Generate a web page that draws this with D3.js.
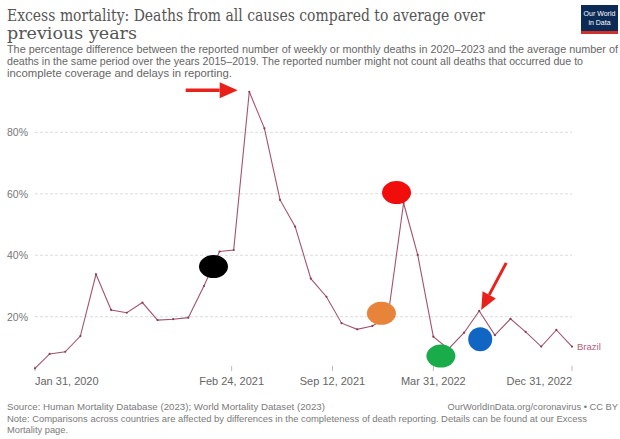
<!DOCTYPE html>
<html>
<head>
<meta charset="utf-8">
<script src="https://cdn.jsdelivr.net/npm/d3@7"></script>
<style>
  html, body { margin: 0; padding: 0; background: #fff; }
  svg { display: block; }
</style>
</head>
<body>
<svg id="chart" width="620" height="439"></svg>
<script>
// ---------- DATA ----------
const monthStarts = d3.range(36).map(i => new Date(2020, i + 1, 0)); // month-end dates Jan 2020 .. Dec 2022
const excessBrazil = [
  3.2, 7.9, 8.6, 13.7, 33.8, 22.2, 21.3, 24.6, 18.9, 19.2, 19.7, 30.0,
  41.2, 41.7, 93.2, 81.3, 58.0, 49.3, 32.4, 26.5, 17.9, 15.9, 17.0, 20.0,
  57.0, 40.1, 13.5, 9.5, 14.8, 21.9, 14.0, 19.3, 15.1, 10.3, 15.7, 10.3
];
const seriesName = "Brazil";
const yTicks = [20, 40, 60, 80];
const xTickDates = [new Date(2020,0,31), new Date(2021,1,24), new Date(2021,8,12), new Date(2022,2,31), new Date(2022,11,31)];
const xTickLabels = ["Jan 31, 2020", "Feb 24, 2021", "Sep 12, 2021", "Mar 31, 2022", "Dec 31, 2022"];
// highlight markers (date, value, colour)
const markerDates = [new Date(2021,0,19), new Date(2021,11,18), new Date(2022,0,17), new Date(2022,3,15), new Date(2022,6,2)];
const markerValues = [36.3, 21.1, 60.4, 7.2, 12.7];
const markerColors = ["#000000", "#e8833a", "#f20d0d", "#1aab4b", "#1166c4"];

const titleLines = ["Excess mortality: Deaths from all causes compared to average over", "previous years"];
const subtitleLines = [
  "The percentage difference between the reported number of weekly or monthly deaths in 2020–2023 and the average number of",
  "deaths in the same period over the years 2015–2019. The reported number might not count all deaths that occurred due to",
  "incomplete coverage and delays in reporting."
];
const sourceText = "Source: Human Mortality Database (2023); World Mortality Dataset (2023)";
const urlText = "OurWorldInData.org/coronavirus • CC BY";
const noteLines = [
  "Note: Comparisons across countries are affected by differences in the completeness of death reporting. Details can be found at our Excess",
  "Mortality page."
];

// ---------- CHART ----------
const svg = d3.select("#chart");
const x = d3.scaleTime().domain([new Date(2020,0,31), new Date(2022,11,31)]).range([35, 572]);
const y = d3.scaleLinear().domain([0, 80]).range([378.2, 132.3]);

// Title
const tg = svg.append("g");
titleLines.forEach((t, i) => {
  tg.append("text").attr("x", 7).attr("y", 21 + i * 18)
    .attr("font-family", "'DejaVu Serif', 'Liberation Serif', serif")
    .attr("font-size", 16.5).attr("fill", "#555").text(t)
    .attr("textLength", i === 0 ? 478 : 130).attr("lengthAdjust", "spacingAndGlyphs");
});
subtitleLines.forEach((t, i) => {
  tg.append("text").attr("x", 7).attr("y", 53 + i * 12)
    .attr("font-family", "'Liberation Sans', Arial, sans-serif")
    .attr("font-size", 10).attr("fill", "#666")
    .attr("textLength", i === 0 ? 611 : (i === 1 ? 576 : 225)).attr("lengthAdjust", "spacingAndGlyphs")
    .text(t);
});

// Logo
const logo = svg.append("g");
logo.append("rect").attr("x", 581).attr("y", 5).attr("width", 37).attr("height", 29).attr("fill", "#0b2a56");
logo.append("rect").attr("x", 581).attr("y", 31).attr("width", 37).attr("height", 3).attr("fill", "#d0302a");
logo.append("text").attr("x", 599.5).attr("y", 16).attr("text-anchor", "middle")
  .attr("font-family", "'Liberation Sans', Arial, sans-serif").attr("font-size", 7).attr("fill", "#fff").text("Our World");
logo.append("text").attr("x", 599.5).attr("y", 25).attr("text-anchor", "middle")
  .attr("font-family", "'Liberation Sans', Arial, sans-serif").attr("font-size", 7).attr("fill", "#fff").text("in Data");

// Grid + y labels
const grid = svg.append("g");
grid.selectAll("line").data(yTicks).join("line")
  .attr("x1", 35).attr("x2", 572).attr("y1", d => y(d)).attr("y2", d => y(d))
  .attr("stroke", "#dcdcdc").attr("stroke-width", 1).attr("stroke-dasharray", "3,2");
grid.selectAll("text").data(yTicks).join("text")
  .attr("x", 7).attr("y", d => y(d) + 4)
  .attr("font-family", "'Liberation Sans', Arial, sans-serif").attr("font-size", 10.5).attr("fill", "#777")
  .text(d => d + "%");

// X axis ticks and labels
const xa = svg.append("g");
xa.selectAll("line").data(xTickDates).join("line")
  .attr("x1", d => x(d)).attr("x2", d => x(d)).attr("y1", 366).attr("y2", 371)
  .attr("stroke", "#bbb").attr("stroke-width", 1);
xa.selectAll("text").data(xTickDates).join("text")
  .attr("x", d => x(d)).attr("y", 385)
  .attr("text-anchor", (d, i) => i === 0 ? "start" : (i === xTickDates.length - 1 ? "end" : "middle"))
  .attr("font-family", "'Liberation Sans', Arial, sans-serif").attr("font-size", 11).attr("fill", "#666")
  .text((d, i) => xTickLabels[i]);

// Line
const data = monthStarts.map((d, i) => ({ date: d, value: excessBrazil[i] }));
const line = d3.line().x(d => x(d.date)).y(d => y(d.value));
svg.append("path").datum(data).attr("d", line)
  .attr("fill", "none").attr("stroke", "#a3546c").attr("stroke-width", 1.1);
svg.append("g").selectAll("circle").data(data).join("circle")
  .attr("cx", d => x(d.date)).attr("cy", d => y(d.value)).attr("r", 1.1).attr("fill", "#8a3d52");
svg.append("text").attr("x", x(data[data.length - 1].date) + 5).attr("y", y(data[data.length - 1].value) + 3)
  .attr("font-family", "'Liberation Sans', Arial, sans-serif").attr("font-size", 9.5).attr("fill", "#b0607a")
  .text(seriesName);

// Highlight markers
svg.append("g").selectAll("ellipse").data(markerDates).join("ellipse")
  .attr("cx", d => x(d)).attr("cy", (d, i) => y(markerValues[i]))
  .attr("rx", (d, i) => i === 4 ? 12 : 14.5).attr("ry", (d, i) => i === 4 ? 12 : 11.5)
  .attr("fill", (d, i) => markerColors[i]);

// Red arrows
const arrowColor = "#e8221b";
function arrow(x1, y1, x2, y2, headLen, headHalf, w) {
  const ang = Math.atan2(y2 - y1, x2 - x1);
  const bx = x2 - headLen * Math.cos(ang), by = y2 - headLen * Math.sin(ang);
  svg.append("line").attr("x1", x1).attr("y1", y1).attr("x2", bx).attr("y2", by)
    .attr("stroke", arrowColor).attr("stroke-width", w);
  const px = -Math.sin(ang), py = Math.cos(ang);
  svg.append("path")
    .attr("d", `M${x2},${y2}L${bx + px * headHalf},${by + py * headHalf}L${bx - px * headHalf},${by - py * headHalf}Z`)
    .attr("fill", arrowColor);
}
// arrow pointing at the March 2021 peak
arrow(x(new Date(2021,1,28)) - 48, y(93.2) - 1.5, x(new Date(2021,1,28)) + 4, y(93.2) - 1.5, 18, 8, 3.5);
// arrow pointing at the June 2022 point
arrow(x(new Date(2022,5,30)) + 27, y(21.9) - 48, x(new Date(2022,5,30)) + 2, y(21.9) - 1, 17, 7.5, 3);

// Footer
const ft = svg.append("g").attr("font-family", "'Liberation Sans', Arial, sans-serif").attr("font-size", 9.3).attr("fill", "#7a7a7a");
ft.append("text").attr("x", 7).attr("y", 410).attr("textLength", 318).attr("lengthAdjust", "spacingAndGlyphs").text(sourceText);
ft.append("text").attr("x", 618).attr("y", 410).attr("text-anchor", "end").text(urlText);
noteLines.forEach((t, i) => ft.append("text").attr("x", 7).attr("y", 422 + i * 11)
  .attr("textLength", i === 0 ? 580 : null).attr("lengthAdjust", "spacingAndGlyphs").text(t));
</script>
</body>
</html>
